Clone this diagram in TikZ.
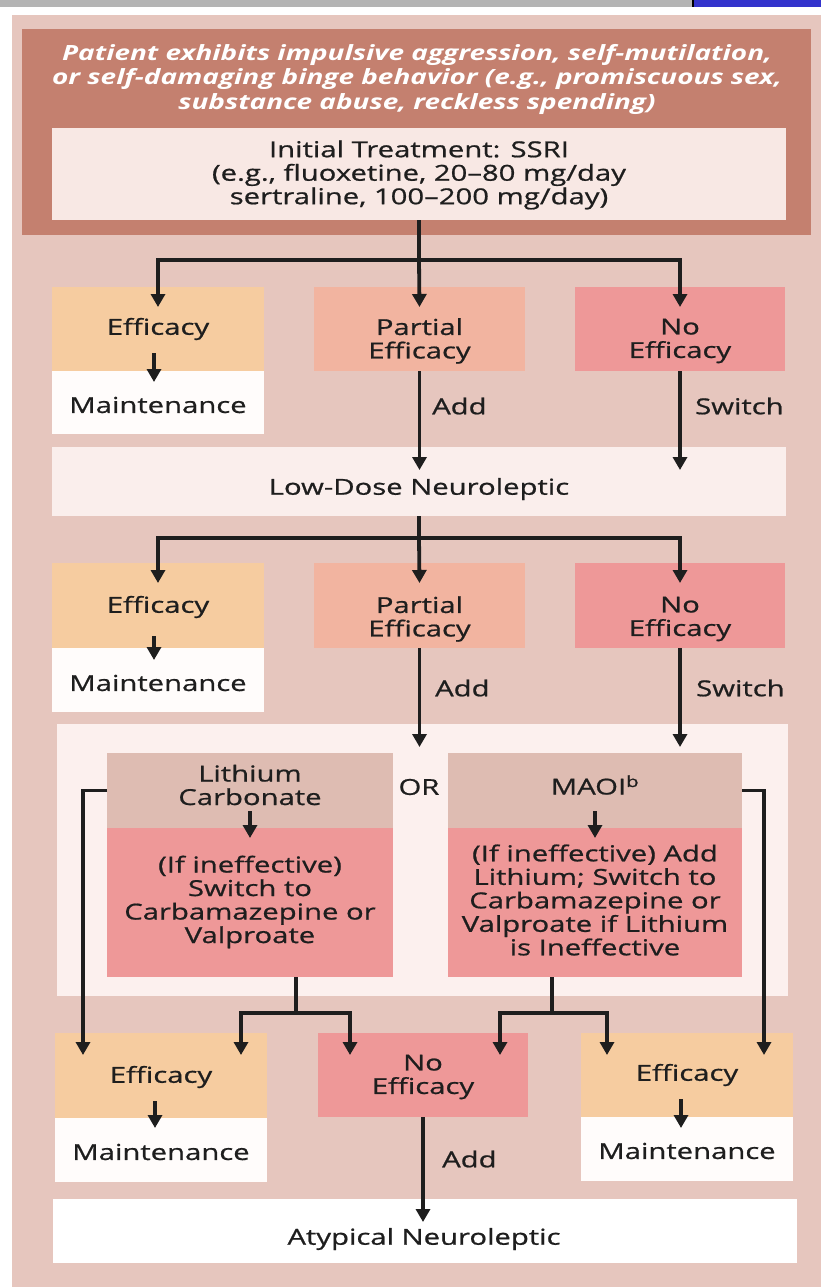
\documentclass[tikz,border=0pt]{standalone}
\usepackage{fontspec}
\setmainfont{Open Sans}[FakeStretch=1.33, FakeBold=0.8]
\newfontfamily\titlefont{Open Sans}[FakeStretch=1.33]
\usetikzlibrary{arrows.meta,calc,fit}
\definecolor{panel}{HTML}{E6C6BE}
\definecolor{titlec}{HTML}{C4806F}
\definecolor{initc}{HTML}{F8E8E4}
\definecolor{effc}{HTML}{F6CCA0}
\definecolor{partc}{HTML}{F2B4A0}
\definecolor{noc}{HTML}{EE9898}
\definecolor{maintc}{HTML}{FFFCFB}
\definecolor{ldc}{HTML}{FAEEEC}
\definecolor{bigc}{HTML}{FCF0EE}
\definecolor{topc}{HTML}{DEBCB2}
\definecolor{barg}{HTML}{B4B4B4}
\definecolor{barb}{HTML}{3333CC}
\definecolor{ink}{HTML}{1E1E1E}
\begin{document}
\begin{tikzpicture}[x=1pt,y=-1pt,
  box/.style={inner sep=0pt, outer sep=0pt, draw=none, rectangle},
  txt/.style={align=center, inner sep=0pt, font=\fontsize{22}{23.5}\selectfont, text=ink},
  lbl/.style={anchor=west, inner sep=0pt, font=\fontsize{22}{23.5}\selectfont, text=ink},
  ttl/.style={align=center, inner sep=0pt, font=\titlefont\fontsize{21}{24.5}\selectfont\bfseries\itshape, text=white},
  arr/.style={line width=3.8pt, draw=ink, -{Triangle[length=13pt,width=14pt]}},
  ln/.style={line width=3.8pt, draw=ink},
]
\useasboundingbox (0,0) rectangle (821,1287);
\fill[white] (0,0) rectangle (821,1287);
\fill[barg] (0,0) rectangle (692,7);
\fill[black] (692,0) rectangle (694,7);
\fill[barb] (694,0) rectangle (821,7);
\fill[panel] (12,15) rectangle (821,1287);

% title
\node[box, fill=titlec, fit={(22,29)(811,235)}] (title) {};
\node[ttl] (ttext) at (417,79) {Patient exhibits impulsive aggression, self-mutilation,\\or self-damaging binge behavior (e.g., promiscuous sex,\\substance abuse, reckless spending)};
\node[box, fill=initc, fit={(52,128)(786,220)}] (init) {};
\node[txt] (inittext) at (419,175) {Initial Treatment: SSRI\\(e.g., fluoxetine, 20--80 mg/day\\sertraline, 100--200 mg/day)};

% row 1
\node[box, fill=effc, fit={(52,287)(264,371)}] (e1) {};
\node[box, fill=maintc, fit={(52,371)(264,434)}] (m1) {};
\node[box, fill=partc, fit={(314,287)(525,371)}] (p1) {};
\node[box, fill=noc, fit={(575,287)(785,371)}] (n1) {};
\node[txt] (e1t) at (158,329) {Efficacy};
\node[txt] (m1t) at (158,405) {Maintenance};
\node[txt] (p1t) at (419.5,341) {Partial\\Efficacy};
\node[txt] (n1t) at (680,341) {No\\Efficacy};
\node[box, fill=ldc, fit={(52,447)(786,516)}] (ld) {};
\node[txt] (ldt) at (419,489) {Low-Dose Neuroleptic};
\node[lbl] (add1) at (432,406) {Add};
\node[lbl] (sw1) at (695,406) {Switch};

% row 2
\node[box, fill=effc, fit={(52,563)(264,648)}] (e2) {};
\node[box, fill=maintc, fit={(52,648)(264,712)}] (m2) {};
\node[box, fill=partc, fit={(314,563)(525,648)}] (p2) {};
\node[box, fill=noc, fit={(575,563)(785,648)}] (n2) {};
\node[txt] (e2t) at (158,607) {Efficacy};
\node[txt] (m2t) at (158,683) {Maintenance};
\node[txt] (p2t) at (419.5,619) {Partial\\Efficacy};
\node[txt] (n2t) at (680,619) {No\\Efficacy};
\node[lbl] (add2) at (435,688) {Add};
\node[lbl] (sw2) at (696,688) {Switch};

% big box
\node[box, fill=bigc, fit={(57,724)(788,996)}] (big) {};
\node[box, fill=topc, fit={(107,753)(393,828)}] (lt) {};
\node[box, fill=noc, fit={(107,828)(393,977)}] (lb) {};
\node[box, fill=topc, fit={(448,753)(742,828)}] (mt) {};
\node[box, fill=noc, fit={(448,828)(742,977)}] (mb) {};
\node[txt] (ltt) at (250,785) {Lithium\\Carbonate};
\node[txt] (mtt) at (595,785) {MAOI\textsuperscript{b}};
\node[txt] (ortext) at (419,787) {OR};
\node[txt] (lbt) at (250,902) {(If ineffective)\\Switch to\\Carbamazepine or\\Valproate};
\node[txt] (mbt) at (595,900) {(If ineffective) Add\\Lithium; Switch to\\Carbamazepine or\\Valproate if Lithium\\is Ineffective};

% bottom row
\node[box, fill=effc, fit={(55,1033)(267,1118)}] (eL) {};
\node[box, fill=maintc, fit={(55,1118)(267,1182)}] (mL) {};
\node[box, fill=noc, fit={(318,1033)(528,1117)}] (nB) {};
\node[box, fill=effc, fit={(581,1033)(793,1117)}] (eR) {};
\node[box, fill=maintc, fit={(581,1117)(793,1181)}] (mR) {};
\node[txt] (eLt) at (161,1077) {Efficacy};
\node[txt] (mLt) at (161,1152) {Maintenance};
\node[txt] (nBt) at (423,1077) {No\\Efficacy};
\node[txt] (eRt) at (687,1075) {Efficacy};
\node[txt] (mRt) at (687,1151) {Maintenance};
\node[lbl] (add3) at (442,1159) {Add};
\node[box, fill=white, fit={(53,1199)(797,1263)}] (aty) {};
\node[txt] (atyt) at (424,1239) {Atypical Neuroleptic};

% junctions
\coordinate (j1) at (419,260);
\coordinate (j2) at (419,538);
\coordinate (cL) at (83,1055);
\coordinate (cR) at (764,1055);
\coordinate (jL) at (296,1013);
\coordinate (jM) at (552,1013);

% connectors top
\draw[ln] (init.south) -- (j1);
\draw[arr] (j1) -| ($(e1.north)+(0,20)$);
\draw[arr] (j1) -- ($(p1.north)+(0,20)$);
\draw[arr] (j1) -| ($(n1.north)+(0,20)$);
\draw[arr] ($(e1.south)+(-4,-18)$) -- ($(e1.south)+(-4,11)$);
\draw[arr] (p1.south) -- ($(p1.south |- ld.north)+(0,23)$);
\draw[arr] (n1.south) -- ($(n1.south |- ld.north)+(0,23)$);

\draw[ln] (ld.south) -- (j2);
\draw[arr] (j2) -| ($(e2.north)+(0,20)$);
\draw[arr] (j2) -- ($(p2.north)+(0,20)$);
\draw[arr] (j2) -| ($(n2.north)+(0,20)$);
\draw[arr] ($(e2.south)+(-4,-12)$) -- ($(e2.south)+(-4,12)$);
\draw[arr] (p2.south) -- ($(p2.south |- big.north)+(0,23)$);
\draw[arr] (n2.south) -- ($(n2.south |- big.north)+(0,23)$);

% within big box
\draw[arr] ($(lt.south)+(0,-17)$) -- ($(lt.south)+(0,10)$);
\draw[arr] ($(mt.south)+(0,-17)$) -- ($(mt.south)+(0,10)$);
\draw[arr] (lt.west) -| (cL);
\draw[arr] (mt.east) -| (cR);
\draw[ln] ($(lb.south)+(46,0)$) -- (jL);
\draw[arr] (jL) -| ($(eL.north)+(80,22)$);
\draw[arr] (jL) -| ($(nB.north)+(-73,22)$);
\draw[ln] ($(mb.south)+(-43,0)$) -- (jM);
\draw[arr] (jM) -| ($(nB.north)+(77,22)$);
\draw[arr] (jM) -| ($(eR.north)+(-80,22)$);

% bottom
\draw[arr] ($(eL.south)+(-6,-17)$) -- ($(eL.south)+(-6,10)$);
\draw[arr] ($(eR.south)+(-6,-18)$) -- ($(eR.south)+(-6,11)$);
\draw[arr] (nB.south) -- ($(nB.south |- aty.north)+(0,23)$);
\end{tikzpicture}
\end{document}
